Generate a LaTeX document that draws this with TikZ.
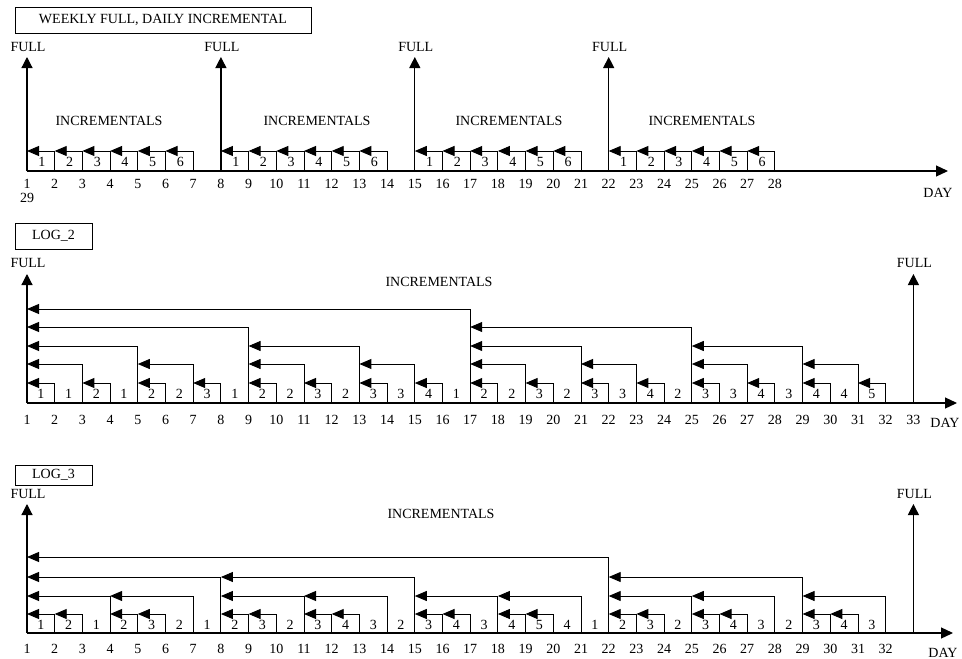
\documentclass[tikz,border=0pt]{standalone}
\usepackage{fontspec}
\setmainfont{Liberation Serif}
\usetikzlibrary{arrows.meta,calc}

\begin{document}
\begin{tikzpicture}[
x=1pt,y=-1pt,
lbl/.style={font=\fontsize{14}{16}\selectfont, inner sep=0pt},
titlebox/.style={
rectangle,draw,line width=0.8pt,
font=\fontsize{14}{16}\selectfont,
inner sep=0pt
},
axis/.style={-{Triangle[length=12pt,width=11pt]}, line width=1.2pt},
full/.style={-{Triangle[length=11pt,width=11pt]}, line width=1.2pt},
incr/.style={-{Triangle[length=12pt,width=10pt]}, line width=0.9pt}
]
\useasboundingbox[fill=white] (0,0) rectangle (962,659);

% =======================
% WEEKLY FULL, DAILY INCREMENTAL
% =======================

\node[titlebox, minimum width=296pt, minimum height=26pt] (ttlW) at (163,20)
{WEEKLY FULL, DAILY INCREMENTAL};

\foreach \d in {1,...,28} {
  \coordinate (w\d) at ({27+(\d-1)*27.7},171);
  \node[lbl] (wd\d) at ({27+(\d-1)*27.7},184) {\d};
}
\coordinate (wL) at (0,151);
\coordinate (wTop) at (0,57);
\coordinate (wEnd) at (948,171);
\node[lbl] (wd29) at (27,198) {29};
\node[lbl] (wday) at (938,193) {DAY};

\draw[axis] (w1) -- (wEnd);

\foreach \s/\x in {1/109,8/317,15/509,22/702} {
  \draw[full] (w\s) -- (w\s |- wTop);
  \node[lbl] (wf\s) at ($(w\s |- 0,47)+(1,0)$) {FULL};
  \node[lbl] (wi\s) at (\x,121) {INCREMENTALS};
  \foreach \k in {1,...,6} {
    \pgfmathtruncatemacro\a{\s+\k-1}
    \pgfmathtruncatemacro\b{\s+\k}
    \draw[incr] (w\b) |- (w\a |- wL);
    \node[lbl] (wn\a) at ($(w\a)!0.5!(w\b)+(1,-9)$) {\k};
  }
}

% =======================
% LOG_2
% =======================

\node[titlebox, minimum width=77pt, minimum height=26pt] (ttlB) at (53.5,236) {LOG\_2};

\foreach \d in {1,...,33} {
  \coordinate (b\d) at ({27+(\d-1)*27.7},403);
  \node[lbl] (bd\d) at ({27+(\d-1)*27.7},420) {\d};
}
\foreach \l/\y in {1/383,2/364,3/346,4/327,5/309}
  \coordinate (bL\l) at (0,\y);
\coordinate (bTop) at (0,274);
\coordinate (bEnd) at (957,403);

\draw[axis] (b1) -- (bEnd);
\node[lbl] (bday) at (945,423) {DAY};
\node[lbl] (bi) at (439,282) {INCREMENTALS};

\foreach \s in {1,33} {
  \draw[full] (b\s) -- (b\s |- bTop);
  \node[lbl] (bf\s) at ($(b\s |- 0,263)+(1,0)$) {FULL};
}

\foreach \j/\i/\l in {2/1/1,4/3/1,6/5/1,8/7/1,10/9/1,12/11/1,14/13/1,16/15/1,
  18/17/1,20/19/1,22/21/1,24/23/1,26/25/1,28/27/1,30/29/1,32/31/1,
  3/1/2,7/5/2,11/9/2,15/13/2,19/17/2,23/21/2,27/25/2,31/29/2,
  5/1/3,13/9/3,21/17/3,29/25/3,
  9/1/4,25/17/4,
  17/1/5}
  \draw[incr] (b\j) |- (b\i |- bL\l);

\foreach \v [count=\d] in {1,1,2,1,2,2,3,1,2,2,3,2,3,3,4,1,2,2,3,2,3,3,4,2,3,3,4,3,4,4,5} {
  \pgfmathtruncatemacro\e{\d+1}
  \node[lbl] (bn\d) at ($(b\d)!0.5!(b\e)+(0,-9)$) {\v};
}

% =======================
% LOG_3
% =======================

\node[titlebox, minimum width=77pt, minimum height=20pt] (ttlC) at (53.5,475) {LOG\_3};

\foreach \d in {1,...,33} {
  \coordinate (c\d) at ({27+(\d-1)*27.7},633);
}
\foreach \d in {1,...,32} {
  \node[lbl] (cd\d) at (c\d |- 0,649) {\d};
}
\foreach \l/\y in {1/614,2/596,3/577,4/557}
  \coordinate (cL\l) at (0,\y);
\coordinate (cTop) at (0,504);
\coordinate (cEnd) at (953,633);

\draw[axis] (c1) -- (cEnd);
\node[lbl] (cday) at (943,653) {DAY};
\node[lbl] (ci) at (441,514) {INCREMENTALS};

\foreach \s in {1,33} {
  \draw[full] (c\s) -- (c\s |- cTop);
  \node[lbl] (cf\s) at ($(c\s |- 0,494)+(1,0)$) {FULL};
}

\foreach \j/\i/\l in {2/1/1,3/2/1,5/4/1,6/5/1,9/8/1,10/9/1,12/11/1,13/12/1,
  16/15/1,17/16/1,19/18/1,20/19/1,23/22/1,24/23/1,26/25/1,27/26/1,30/29/1,31/30/1,
  4/1/2,7/4/2,11/8/2,14/11/2,18/15/2,21/18/2,25/22/2,28/25/2,32/29/2,
  8/1/3,15/8/3,29/22/3,
  22/1/4}
  \draw[incr] (c\j) |- (c\i |- cL\l);

\foreach \v [count=\d] in {1,2,1,2,3,2,1,2,3,2,3,4,3,2,3,4,3,4,5,4,1,2,3,2,3,4,3,2,3,4,3} {
  \pgfmathtruncatemacro\e{\d+1}
  \node[lbl] (cn\d) at ($(c\d)!0.5!(c\e)+(0,-8)$) {\v};
}

\end{tikzpicture}
\end{document}
